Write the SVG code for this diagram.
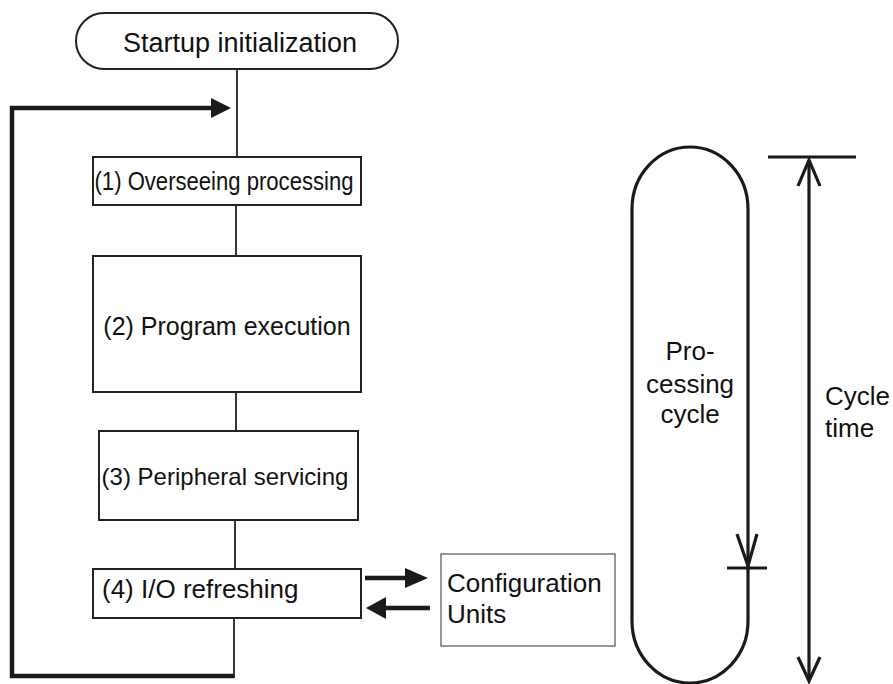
<svg xmlns="http://www.w3.org/2000/svg" width="893" height="684" viewBox="0 0 893 684">
<style>
  text { font-family: "Liberation Sans", Arial, sans-serif; fill: #111; }
  .box { fill: #fff; stroke: #222; stroke-width: 2; }
  .thin { fill: none; stroke: #222; stroke-width: 1.8; }
  .thick { fill: none; stroke: #1a1a1a; stroke-width: 4.5; stroke-linecap: butt; }
  .mid { fill: none; stroke: #1a1a1a; stroke-width: 3.2; }
  .head { fill: #1a1a1a; stroke: none; }
</style>
<rect width="893" height="684" fill="#fff"/>

<g id="connectors">
  <line class="thin" x1="237" y1="69" x2="237" y2="157"/>
  <line class="thin" x1="236" y1="205" x2="236" y2="256"/>
  <line class="thin" x1="236" y1="392" x2="236" y2="431"/>
  <line class="thin" x1="235" y1="520" x2="235" y2="569"/>
  <line class="thin" x1="234" y1="618" x2="234" y2="678"/>
  <polyline class="thick" points="234,676 12,676 12,108 214,108"/>
  <polygon class="head" points="211,98 231,108 211,118"/>
  <line class="thick" x1="365" y1="578" x2="407" y2="578"/>
  <polygon class="head" points="405,568 428,578 405,588"/>
  <line class="thick" x1="430" y1="608" x2="386" y2="608"/>
  <polygon class="head" points="386,597 366,608 386,619"/>
</g>

<g id="startup">
  <rect class="box" x="76" y="13" width="322" height="56" rx="28" ry="28"/>
  <text x="240" y="52" font-size="27" text-anchor="middle">Startup initialization</text>
</g>

<g id="step1">
  <rect class="box" x="93" y="157" width="268" height="48"/>
  <text transform="translate(224,190) scale(0.85,1)" font-size="26" text-anchor="middle">(1) Overseeing processing</text>
</g>

<g id="step2">
  <rect class="box" x="93" y="256" width="268" height="136"/>
  <text x="227" y="335" font-size="25" text-anchor="middle">(2) Program execution</text>
</g>

<g id="step3">
  <rect class="box" x="99" y="431" width="259" height="89"/>
  <text x="225" y="485" font-size="24" text-anchor="middle">(3) Peripheral servicing</text>
</g>

<g id="step4">
  <rect class="box" x="93" y="569" width="268" height="49"/>
  <text x="102" y="598" font-size="26">(4) I/O refreshing</text>
</g>

<g id="config">
  <rect x="441" y="554" width="174" height="92" fill="#fff" stroke="#555" stroke-width="1.2"/>
  <text x="447" y="592" font-size="26">Configuration</text>
  <text x="447" y="623" font-size="26">Units</text>
</g>

<g id="processing-cycle">
  <path class="mid" d="M632,209 A58,62 0 0 1 748,209 L748,621 A58,62 0 0 1 632,621 Z"/>
  <polyline class="mid" points="737,534 748,566 757,534"/>
  <line class="mid" x1="727" y1="568" x2="767" y2="568"/>
  <text x="690" y="360" font-size="26" text-anchor="middle">Pro-</text>
  <text x="690" y="393" font-size="26" text-anchor="middle">cessing</text>
  <text x="690" y="423" font-size="26" text-anchor="middle">cycle</text>
</g>

<g id="cycle-time">
  <line class="mid" x1="768" y1="157" x2="856" y2="157"/>
  <line class="mid" x1="809" y1="160" x2="809" y2="680"/>
  <polyline class="mid" points="798,186 809,160 820,186"/>
  <polyline class="mid" points="798,657 809,681 820,657"/>
  <text x="825" y="405" font-size="26">Cycle</text>
  <text x="825" y="437" font-size="26">time</text>
</g>
</svg>
